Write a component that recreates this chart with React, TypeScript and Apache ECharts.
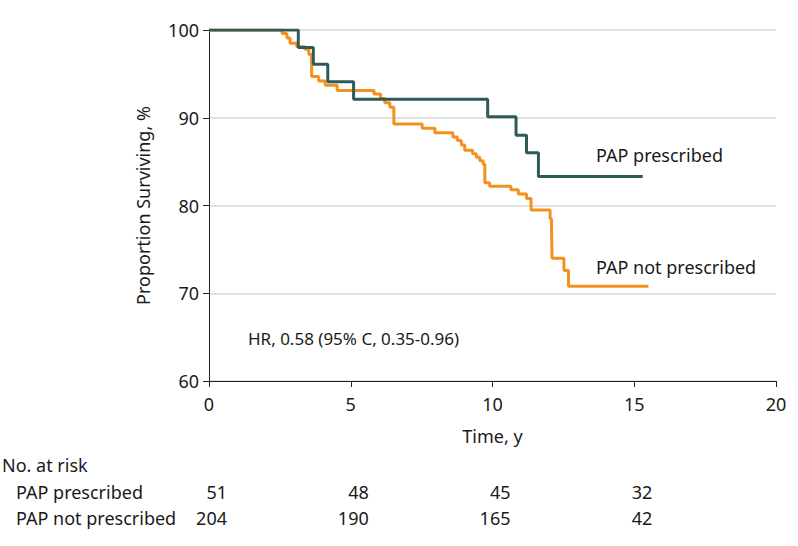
import React, { useEffect, useRef } from "react";
import * as echarts from "echarts";

// Kaplan-Meier steps: time (years) and survival (%) after each drop
const prescribedTimes = [0, 3.15, 3.68, 4.19, 5.1, 9.83, 10.83, 11.2, 11.62, 15.3];
const prescribedSurvival = [100, 98.0, 96.1, 94.1, 92.1, 90.1, 88.0, 86.0, 83.3, 83.3];

const notPrescribedTimes = [
  0, 2.58, 2.75, 2.86, 3.1, 3.38, 3.52, 3.62, 3.87, 4.1, 4.52, 5.82, 6.05, 6.2, 6.38, 6.52,
  7.52, 7.97, 8.6, 8.76, 8.9, 9.02, 9.3, 9.43, 9.55, 9.67, 9.73, 9.9, 10.65, 10.91, 11.2,
  11.36, 12.03, 12.08, 12.1, 12.52, 12.68, 15.5,
];
const notPrescribedSurvival = [
  100, 99.6, 99.1, 98.5, 98.1, 97.8, 97.2, 94.7, 94.2, 93.7, 93.1, 92.7, 92.2, 91.7, 91.2, 89.3,
  88.8, 88.3, 87.8, 87.4, 86.9, 86.3, 85.9, 85.5, 85.1, 84.7, 82.6, 82.2, 81.8, 81.3, 80.8,
  79.5, 78.5, 77.6, 74.0, 72.6, 70.8, 70.8,
];

const riskTimes = [0, 5, 10, 15];
const riskPrescribed = [51, 48, 45, 32];
const riskNotPrescribed = [204, 190, 165, 42];

const seriesNames = ["PAP prescribed", "PAP not prescribed"];
const hrText = "HR, 0.58 (95% C, 0.35-0.96)";

const FONT = "Noto Sans";
const TEXT = "#1a1a1a";
const GREEN = "#2e5a57";
const ORANGE = "#f4901e";

export default function App() {
  const ref = useRef<HTMLDivElement>(null);

  useEffect(() => {
    if (!ref.current) return;
    const chart = echarts.init(ref.current, null, { renderer: "svg" });
    const toPairs = (t: number[], v: number[]) => t.map((x, i) => [x, v[i]]);

    chart.setOption({
      animation: false,
      backgroundColor: "#ffffff",
      textStyle: { fontFamily: FONT },
      grid: { left: 209, top: 30, width: 567, height: 351, containLabel: false },
      xAxis: {
        type: "value",
        min: 0,
        max: 20,
        interval: 5,
        name: "Time, y",
        nameLocation: "middle",
        nameGap: 46,
        nameTextStyle: { fontFamily: FONT, fontSize: 18, color: TEXT },
        axisLine: { show: true, lineStyle: { color: "#222", width: 1 } },
        axisTick: { show: true, length: 6, lineStyle: { color: "#222" } },
        axisLabel: { fontFamily: FONT, fontSize: 18, color: TEXT, margin: 14 },
        splitLine: { show: false },
      },
      yAxis: {
        type: "value",
        min: 60,
        max: 100,
        interval: 10,
        name: "Proportion Surviving, %",
        nameLocation: "middle",
        nameGap: 57,
        nameTextStyle: { fontFamily: FONT, fontSize: 18, color: TEXT },
        axisLine: { show: true, lineStyle: { color: "#222", width: 1 } },
        axisTick: { show: true, length: 6, lineStyle: { color: "#222" } },
        axisLabel: { fontFamily: FONT, fontSize: 18, color: TEXT, margin: 10 },
        splitLine: { show: true, lineStyle: { color: "#d9d9d9", width: 1.5 } },
      },
      series: [
        {
          name: seriesNames[1],
          type: "line",
          step: "end",
          symbol: "none",
          data: toPairs(notPrescribedTimes, notPrescribedSurvival),
          lineStyle: { color: ORANGE, width: 3 },
          z: 2,
        },
        {
          name: seriesNames[0],
          type: "line",
          step: "end",
          symbol: "none",
          data: toPairs(prescribedTimes, prescribedSurvival),
          lineStyle: { color: GREEN, width: 3 },
          z: 3,
        },
      ],
    });

    const px = (t: number) => chart.convertToPixel({ xAxisIndex: 0 }, t) as number;
    const ts = { fontFamily: FONT, fontSize: 18, fill: TEXT, verticalAlign: "middle" };
    const graphics: any[] = [
      { type: "text", x: 596, y: 155, style: { ...ts, text: seriesNames[0] } },
      { type: "text", x: 596, y: 267, style: { ...ts, text: seriesNames[1] } },
      { type: "text", x: 248, y: 338, style: { ...ts, fontSize: 17, text: hrText } },
      { type: "text", x: 2, y: 465, style: { ...ts, text: "No. at risk" } },
      { type: "text", x: 16, y: 492, style: { ...ts, text: seriesNames[0] } },
      { type: "text", x: 16, y: 518, style: { ...ts, text: seriesNames[1] } },
    ];
    riskTimes.forEach((t, i) => {
      const x = px(t) + 18;
      graphics.push({
        type: "text",
        x,
        y: 492,
        style: { ...ts, text: String(riskPrescribed[i]), align: "right" },
      });
      graphics.push({
        type: "text",
        x,
        y: 518,
        style: { ...ts, text: String(riskNotPrescribed[i]), align: "right" },
      });
    });
    chart.setOption({ graphic: graphics });

    return () => chart.dispose();
  }, []);

  return (
    <div
      ref={ref}
      style={{ position: "fixed", left: 0, top: 0, width: 798, height: 546, background: "#fff" }}
    />
  );
}
